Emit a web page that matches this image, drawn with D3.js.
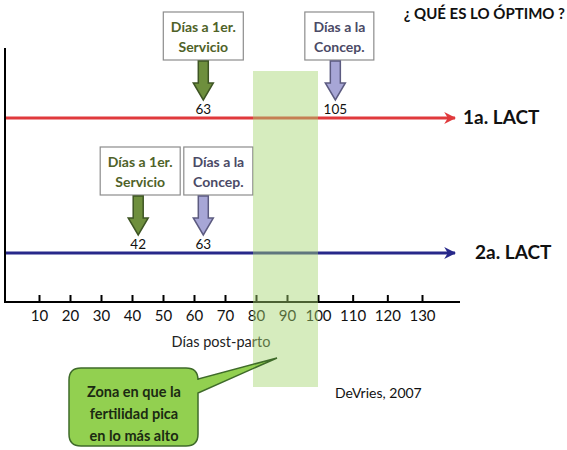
<!DOCTYPE html>
<html>
<head>
<meta charset="utf-8">
<script src="https://cdn.jsdelivr.net/npm/d3@7"></script>
<style>
  body { margin: 0; background: #fff; }
  svg { font-family: Lato, "Open Sans", sans-serif; }
</style>
</head>
<body>
<div id="vis"></div>
<script>
// chart values
const TICKS = [10, 20, 30, 40, 50, 60, 70, 80, 90, 100, 110, 120, 130];
const LACTATIONS = ["1a. LACT", "2a. LACT"];
const SERVICE_DAYS = [63, 42];
const CONCEPTION_DAYS = [105, 63];
const ZONE = [80, 100];
const BOX_SERVICE = ["Días a 1er.", "Servicio"];
const BOX_CONCEP = ["Días a la", "Concep."];
const CALLOUT = ["Zona en que la", "fertilidad pica", "en lo más alto"];

const WIDTH = 567;
const HEIGHT = 450;
const AXIS_Y = 302;
const ROW_Y = [118, 253];
const LINE_COLORS = ["#e0393c", "#27288a"];

const SVG = d3.select("#vis")
    .append("svg")
    .attr("width", WIDTH)
    .attr("height", HEIGHT);

// the tick spacing in the picture widens after 100
const X_SCALE = d3.scaleLinear()
    .domain([0, 100, 130])
    .range([8, 318, 422]);

const defs = SVG.append("defs");
LINE_COLORS.forEach((c, i) => {
    defs.append("marker")
        .attr("id", "head" + i)
        .attr("viewBox", "0 0 10 10")
        .attr("refX", 9).attr("refY", 5)
        .attr("markerWidth", 4).attr("markerHeight", 4)
        .attr("markerUnits", "strokeWidth")
        .attr("orient", "auto")
        .append("path")
        .attr("d", "M0,0 L10,5 L0,10 L3,5 Z")
        .attr("fill", c);
});

// axes
SVG.append("line")
    .attr("x1", 5).attr("x2", 5)
    .attr("y1", 48).attr("y2", AXIS_Y + 1)
    .attr("stroke", "#000").attr("stroke-width", 2);
SVG.append("line")
    .attr("x1", 4).attr("x2", 460)
    .attr("y1", AXIS_Y).attr("y2", AXIS_Y)
    .attr("stroke", "#000").attr("stroke-width", 2);

const xAxis = SVG.append("g")
    .attr("transform", "translate(0," + AXIS_Y + ")")
    .call(d3.axisBottom(X_SCALE).tickValues(TICKS).tickSizeInner(-7).tickSizeOuter(0).tickPadding(8));
xAxis.select(".domain").remove();
xAxis.selectAll(".tick line").attr("stroke", "#000").attr("stroke-width", 2);
xAxis.selectAll(".tick text")
    .attr("font-family", "Lato, sans-serif")
    .attr("font-size", "15px")
    .attr("fill", "#111");

SVG.append("text")
    .attr("x", 221).attr("y", 347)
    .attr("text-anchor", "middle")
    .attr("font-size", "14.5px")
    .attr("fill", "#222")
    .text("Días post-parto");

// lactation lines
ROW_Y.forEach((y, i) => {
    SVG.append("line")
        .attr("x1", 6).attr("x2", 455)
        .attr("y1", y).attr("y2", y)
        .attr("stroke", LINE_COLORS[i])
        .attr("stroke-width", 3)
        .attr("marker-end", "url(#head" + i + ")");
    SVG.append("text")
        .attr("x", i === 0 ? 463 : 475)
        .attr("y", y + 6)
        .attr("font-size", "19px")
        .attr("font-weight", "bold")
        .attr("fill", "#111")
        .text(LACTATIONS[i]);
});

// label boxes with block arrows
function marker(day, rowIdx, lines, boxW, boxShift, textColor, fill, stroke) {
    const cx = X_SCALE(day);
    const bx = cx + boxShift;
    const lineY = ROW_Y[rowIdx];
    const boxBottom = lineY - 58;
    const boxTop = boxBottom - 48;
    const g = SVG.append("g");
    g.append("rect")
        .attr("x", bx - boxW / 2).attr("y", boxTop)
        .attr("width", boxW).attr("height", boxBottom - boxTop)
        .attr("fill", "#fff")
        .attr("stroke", "#8c8c8c").attr("stroke-width", 1.2);
    lines.forEach((t, k) => {
        g.append("text")
            .attr("x", bx).attr("y", boxTop + 20 + k * 20)
            .attr("text-anchor", "middle")
            .attr("font-size", "14px")
            .attr("font-weight", "bold")
            .attr("fill", textColor)
            .text(t);
    });
    const top = boxBottom + 1;
    const neck = lineY - 35;
    const tip = lineY - 18;
    g.append("path")
        .attr("d", "M" + (cx - 5) + "," + top + " L" + (cx + 5) + "," + top +
            " L" + (cx + 5) + "," + neck + " L" + (cx + 10) + "," + neck +
            " L" + cx + "," + tip + " L" + (cx - 10) + "," + neck +
            " L" + (cx - 5) + "," + neck + " Z")
        .attr("fill", fill)
        .attr("stroke", stroke).attr("stroke-width", 1.5);
    g.append("text")
        .attr("x", cx).attr("y", lineY - 4)
        .attr("text-anchor", "middle")
        .attr("font-size", "13.5px")
        .attr("fill", "#111")
        .text(day);
}

const SERVICE_SHIFT = [0, 2];
const CONCEP_SHIFT = [4, 15];
SERVICE_DAYS.forEach((d, i) => {
    marker(d, i, BOX_SERVICE, 80, SERVICE_SHIFT[i], "#4f6228", "#6e8f3d", "#3e5524");
});
CONCEPTION_DAYS.forEach((d, i) => {
    marker(d, i, BOX_CONCEP, 69, CONCEP_SHIFT[i], "#4b4a66", "#a7a6d6", "#5c5b80");
});

// optimal zone, semi-transparent on top of the lines
SVG.append("rect")
    .attr("x", X_SCALE(ZONE[0]) - 3)
    .attr("y", 71)
    .attr("width", X_SCALE(ZONE[1]) - X_SCALE(ZONE[0]) + 3)
    .attr("height", 316)
    .attr("fill", "#a3d46e")
    .attr("opacity", 0.45);

// title and source
SVG.append("text")
    .attr("x", 565).attr("y", 19)
    .attr("text-anchor", "end")
    .attr("font-size", "15px")
    .attr("font-weight", "bold")
    .attr("fill", "#111")
    .text("¿ QUÉ ES LO ÓPTIMO ?");
SVG.append("text")
    .attr("x", 335).attr("y", 398)
    .attr("font-size", "14px")
    .attr("fill", "#111")
    .text("DeVries, 2007");

// callout bubble
const bx = 69, by = 368, bw = 129, bh = 78, r = 12;
SVG.append("path")
    .attr("d",
        "M" + (bx + r) + "," + by +
        " L" + (bx + bw - r) + "," + by +
        " Q" + (bx + bw) + "," + by + " " + (bx + bw) + "," + (by + r) +
        " L" + (bx + bw) + "," + (by + 11) +
        " L277,358" +
        " L" + (bx + bw) + "," + (by + 25) +
        " L" + (bx + bw) + "," + (by + bh - r) +
        " Q" + (bx + bw) + "," + (by + bh) + " " + (bx + bw - r) + "," + (by + bh) +
        " L" + (bx + r) + "," + (by + bh) +
        " Q" + bx + "," + (by + bh) + " " + bx + "," + (by + bh - r) +
        " L" + bx + "," + (by + r) +
        " Q" + bx + "," + by + " " + (bx + r) + "," + by + " Z")
    .attr("fill", "#92d050")
    .attr("stroke", "#3f6b2a")
    .attr("stroke-width", 1.5);
CALLOUT.forEach((t, k) => {
    SVG.append("text")
        .attr("x", 134).attr("y", 397 + k * 22)
        .attr("text-anchor", "middle")
        .attr("font-size", "14.5px")
        .attr("font-weight", "bold")
        .attr("fill", "#1b2a12")
        .text(t);
});
</script>
</body>
</html>
